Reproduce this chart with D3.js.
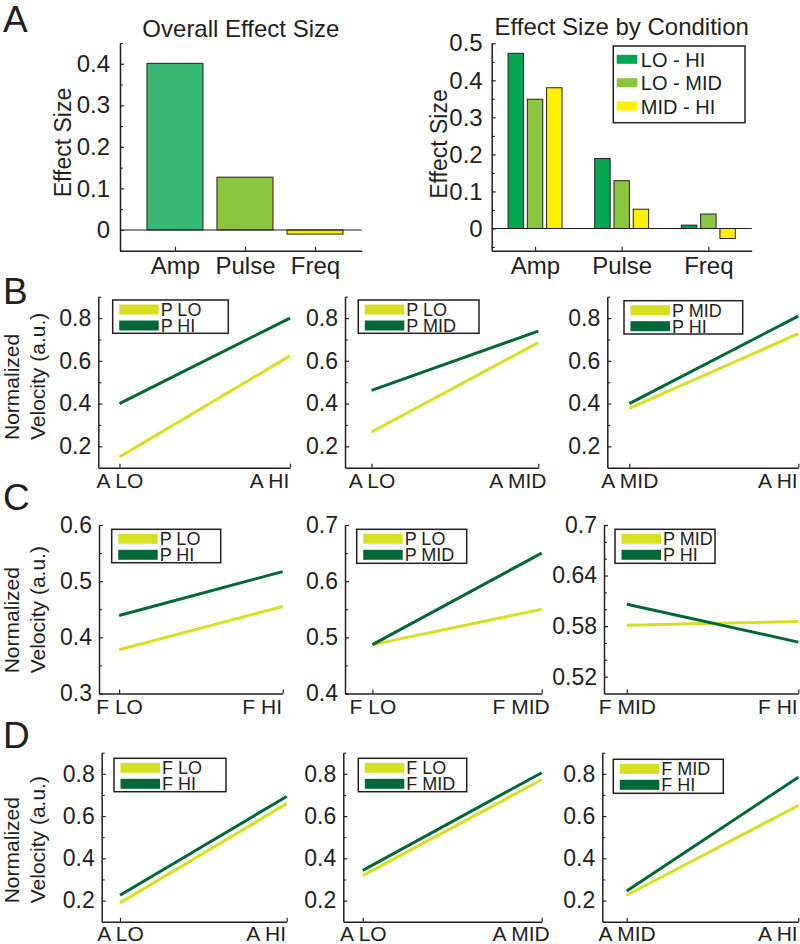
<!DOCTYPE html>
<html><head><meta charset="utf-8">
<script src="https://cdn.jsdelivr.net/npm/d3@7"></script>
<style>
body{margin:0;background:#fff}
svg{display:block}
text{font-family:"Liberation Sans",Arial,Helvetica,sans-serif;fill:#231f20}
</style>
</head><body>
<svg id="chart" width="800" height="944"></svg>
<script>
// ---------------- DATA ----------------
// Panel A (left): overall effect size
const overallCats = ["Amp", "Pulse", "Freq"];
const overallValues = [0.401, 0.127, -0.010];
// Panel A (right): effect size by condition
const conditionNames = ["LO - HI", "LO - MID", "MID - HI"];
const condLoHi  = [0.473, 0.189, 0.009];
const condLoMid = [0.349, 0.129, 0.039];
const condMidHi = [0.380, 0.052, -0.027];
const overallYTicks = [0, 0.1, 0.2, 0.3, 0.4];
const conditionYTicks = [0, 0.1, 0.2, 0.3, 0.4, 0.5];

// Panel B (pulse x amplitude)
const bXLabels = [["A LO", "A HI"], ["A LO", "A MID"], ["A MID", "A HI"]];
const bLegend  = [["P LO", "P HI"], ["P LO", "P MID"], ["P MID", "P HI"]];
const bLight   = [[0.150, 0.623], [0.267, 0.685], [0.377, 0.727]];
const bDark    = [[0.400, 0.800], [0.462, 0.739], [0.400, 0.809]];
const bYTicks  = [[0.2, 0.4, 0.6, 0.8], [0.2, 0.4, 0.6, 0.8], [0.2, 0.4, 0.6, 0.8]];
const bYMinor  = [[0.3, 0.5, 0.7, 0.9], [0.3, 0.5, 0.7, 0.9], [0.3, 0.5, 0.7, 0.9]];
const bYDomain = [[0.1, 0.9], [0.1, 0.9], [0.1, 0.9]];

// Panel C (pulse x frequency)
const cXLabels = [["F LO", "F HI"], ["F LO", "F MID"], ["F MID", "F HI"]];
const cLegend  = [["P LO", "P HI"], ["P LO", "P MID"], ["P MID", "P HI"]];
const cLight   = [[0.378, 0.455], [0.487, 0.550], [0.581, 0.5855]];
const cDark    = [[0.439, 0.517], [0.487, 0.650], [0.606, 0.561]];
const cYTicks  = [[0.3, 0.4, 0.5, 0.6], [0.4, 0.5, 0.6, 0.7], [0.52, 0.58, 0.64, 0.7]];
const cYMinor  = [[0.35, 0.45, 0.55], [0.45, 0.55, 0.65], [0.54, 0.56, 0.60, 0.62, 0.66, 0.68]];
const cYDomain = [[0.3, 0.6], [0.4, 0.7], [0.5, 0.7]];

// Panel D (frequency x amplitude)
const dXLabels = [["A LO", "A HI"], ["A LO", "A MID"], ["A MID", "A HI"]];
const dLegend  = [["F LO", "F HI"], ["F LO", "F MID"], ["F MID", "F HI"]];
const dLight   = [[0.189, 0.659], [0.318, 0.772], [0.225, 0.650]];
const dDark    = [[0.225, 0.693], [0.343, 0.805], [0.245, 0.784]];
const dYTicks  = bYTicks;
const dYMinor  = bYMinor;
const dYDomain = bYDomain;

// ---------------- STYLE / LAYOUT ----------------
const FONT = '"Liberation Sans", Arial, Helvetica, sans-serif';
const INK = "#231f20";
const COL_OVERALL = ["#36b872", "#8cc63f", "#fff000"];
const COL_COND = ["#00a651", "#8cc63f", "#fff000"];
const COL_LIGHT = "#d7df23";
const COL_DARK = "#006838";

const svg = d3.select("#chart");

function styleAxis(g, fs) {
  g.attr("font-family", FONT).attr("font-size", fs);
  g.selectAll("path.domain").attr("stroke", INK).attr("stroke-width", 1.5);
  g.selectAll(".tick line").attr("stroke", INK).attr("stroke-width", 1.2);
  g.selectAll(".tick text").attr("fill", INK);
}
function minorTicksY(scale, x, values) {
  const g = svg.append("g").attr("transform", `translate(${x},0)`)
    .call(d3.axisLeft(scale).tickValues(values).tickSize(-3).tickFormat(""));
  g.select("path.domain").remove();
  g.selectAll(".tick line").attr("stroke", INK).attr("stroke-width", 1.1);
}
function panelLetter(t, x, y) {
  svg.append("text").attr("x", x).attr("y", y).attr("font-size", 37).text(t);
}

// ---------------- PANEL A LEFT ----------------
{
  const x0 = 120, x1 = 361.7, y0 = 250.7, y1 = 43;
  const x = d3.scaleLinear().domain([0.215, 3.667]).range([x0, x1]);
  const y = d3.scaleLinear().domain([-0.05, 0.45]).range([y0, y1]);
  svg.append("g").selectAll("rect").data(overallValues).join("rect")
    .attr("x", (d, i) => x(i + 1 - 0.4))
    .attr("width", (d, i) => x(i + 1.4) - x(i + 0.6))
    .attr("y", d => y(Math.max(d, 0)))
    .attr("height", d => Math.abs(y(d) - y(0)))
    .attr("fill", (d, i) => COL_OVERALL[i])
    .attr("stroke", INK).attr("stroke-width", 1);
  svg.append("line").attr("x1", x0).attr("x2", x1).attr("y1", y(0)).attr("y2", y(0))
    .attr("stroke", INK).attr("stroke-width", 1.1);
  const ya = svg.append("g").attr("transform", `translate(${x0},0)`)
    .call(d3.axisLeft(y).tickValues(overallYTicks).tickSize(-4).tickSizeOuter(0).tickPadding(10)
      .tickFormat(d => d === 0 ? "0" : d3.format(".1f")(d)));
  styleAxis(ya, 24);
  minorTicksY(y, x0, [-0.05, 0.05, 0.15, 0.25, 0.35, 0.45]);
  const xa = svg.append("g").attr("transform", `translate(0,${y0})`)
    .call(d3.axisBottom(x).tickValues([1, 2, 3]).tickSize(-4).tickSizeOuter(0).tickPadding(6)
      .tickFormat((d, i) => overallCats[i]));
  styleAxis(xa, 24);
  svg.append("text").attr("x", (x0 + x1) / 2).attr("y", 36.5).attr("text-anchor", "middle")
    .attr("font-size", 24).text("Overall Effect Size");
  svg.append("text").attr("transform", "translate(71,142.5) rotate(-90)").attr("text-anchor", "middle")
    .attr("font-size", 23).text("Effect Size");
}

// ---------------- PANEL A RIGHT ----------------
{
  const x0 = 491.7, x1 = 751.7, y0 = 250.7, y1 = 43.3;
  const x = d3.scaleLinear().domain([0.5, 3.5]).range([x0, x1]);
  const y = d3.scaleLinear().domain([-0.06, 0.5]).range([y0, y1]);
  const series = [condLoHi, condLoMid, condMidHi];
  const off = 2 / 9, bw = 0.8 * off;
  series.forEach((vals, s) => {
    svg.append("g").selectAll("rect").data(vals).join("rect")
      .attr("x", (d, i) => x(i + 1 + (s - 1) * off - bw / 2))
      .attr("width", x(bw) - x(0))
      .attr("y", d => y(Math.max(d, 0)))
      .attr("height", d => Math.abs(y(d) - y(0)))
      .attr("fill", COL_COND[s])
      .attr("stroke", INK).attr("stroke-width", 1);
  });
  svg.append("line").attr("x1", x0).attr("x2", x1).attr("y1", y(0)).attr("y2", y(0))
    .attr("stroke", INK).attr("stroke-width", 1.1);
  const ya = svg.append("g").attr("transform", `translate(${x0},0)`)
    .call(d3.axisLeft(y).tickValues(conditionYTicks).tickSize(-4).tickSizeOuter(0).tickPadding(9)
      .tickFormat(d => d === 0 ? "0" : d3.format(".1f")(d)));
  styleAxis(ya, 24);
  minorTicksY(y, x0, [-0.05, 0.05, 0.15, 0.25, 0.35, 0.45]);
  const xa = svg.append("g").attr("transform", `translate(0,${y0})`)
    .call(d3.axisBottom(x).tickValues([1, 2, 3]).tickSize(-4).tickSizeOuter(0).tickPadding(6)
      .tickFormat((d, i) => overallCats[i]));
  styleAxis(xa, 24);
  svg.append("text").attr("x", (x0 + x1) / 2).attr("y", 35).attr("text-anchor", "middle")
    .attr("font-size", 24).text("Effect Size by Condition");
  svg.append("text").attr("transform", "translate(446.5,144) rotate(-90)").attr("text-anchor", "middle")
    .attr("font-size", 23).text("Effect Size");
  // legend
  const lx = 613.3, ly = 46, lw = 131.7, lh = 76.7;
  svg.append("rect").attr("x", lx).attr("y", ly).attr("width", lw).attr("height", lh)
    .attr("fill", "#fff").attr("stroke", INK).attr("stroke-width", 1.5);
  conditionNames.forEach((n, i) => {
    const cy = ly + 13.3 + i * 23.4;
    svg.append("rect").attr("x", lx + 3.4).attr("y", cy - 4.5).attr("width", 20.6).attr("height", 9)
      .attr("fill", COL_COND[i]);
    svg.append("text").attr("x", lx + 27.5).attr("y", cy + 7.5).attr("font-size", 20).text(n);
  });
}

// ---------------- PANELS B, C, D ----------------
const rowTop = [296.7, 525, 752.7];
const rowBottom = [467.7, 693.5, 921.7];
const rowLabelStart = [440, 673.3, 903.3];
const panelLeft  = [[98.3, 345, 607.3], [99, 345, 604], [101.7, 343.3, 602.3]];
const panelRight = [[290, 538.3, 798.3], [282.7, 541.7, 798.3], [286.7, 541.7, 798.3]];
const panelXMin  = [[0.876, 0.841, 0.87], [0.877, 0.838, 0.867], [0.89, 0.891, 0.858]];
const legendBox = [
  [[112.7, 300, 115.6, 33.3], [358.3, 300, 120.7, 33.3], [624, 300.7, 118.7, 33.3]],
  [[111.7, 529.3, 109, 33.4], [356.7, 529.3, 110, 34], [615, 529.3, 100, 34]],
  [[114, 758.3, 112, 33.4], [358.3, 758.3, 108.4, 33.4], [613.3, 759.3, 110, 34]]
];
const rows = [
  {letter: "B", ly: 304, xl: bXLabels, lg: bLegend, light: bLight, dark: bDark, yt: bYTicks, ym: bYMinor, yd: bYDomain},
  {letter: "C", ly: 510, xl: cXLabels, lg: cLegend, light: cLight, dark: cDark, yt: cYTicks, ym: cYMinor, yd: cYDomain},
  {letter: "D", ly: 748, xl: dXLabels, lg: dLegend, light: dLight, dark: dDark, yt: dYTicks, ym: dYMinor, yd: dYDomain}
];

rows.forEach((row, r) => {
  panelLetter(row.letter, 3, row.ly);
  const ys = rowLabelStart[r];
  svg.append("text").attr("transform", `translate(19,${ys}) rotate(-90)`)
    .attr("font-size", 21).text("Normalized");
  svg.append("text").attr("transform", `translate(44.5,${ys}) rotate(-90)`)
    .attr("font-size", 21).text("Velocity (a.u.)");
  for (let c = 0; c < 3; c++) {
    const x0 = panelLeft[r][c], x1 = panelRight[r][c];
    const y0 = rowBottom[r], y1 = rowTop[r];
    const x = d3.scaleLinear().domain([panelXMin[r][c], 2]).range([x0, x1]);
    const y = d3.scaleLinear().domain(row.yd[c]).range([y0, y1]);
    const ya = svg.append("g").attr("transform", `translate(${x0},0)`)
      .call(d3.axisLeft(y).tickValues(row.yt[c]).tickSize(-4).tickSizeOuter(0).tickPadding(7)
        .tickFormat(d => String(+d.toFixed(2))));
    styleAxis(ya, 23);
    minorTicksY(y, x0, row.ym[c]);
    const xa = svg.append("g").attr("transform", `translate(0,${y0})`)
      .call(d3.axisBottom(x).tickValues([1, 2]).tickSize(-4).tickSizeOuter(0).tickPadding(r === 2 ? 4.5 : 5.5)
        .tickFormat((d, i) => row.xl[c][i]));
    styleAxis(xa, 21);
    xa.selectAll(".tick text").attr("dx", (d, i) => i === 1 ? -21 : 0);
    const line = d3.line().x((d, i) => x(i + 1)).y(d => y(d));
    svg.append("path").attr("d", line(row.light[c])).attr("fill", "none")
      .attr("stroke", COL_LIGHT).attr("stroke-width", 3);
    svg.append("path").attr("d", line(row.dark[c])).attr("fill", "none")
      .attr("stroke", COL_DARK).attr("stroke-width", 3);
    // legend
    const [lx, ly, lw, lh] = legendBox[r][c];
    svg.append("rect").attr("x", lx).attr("y", ly).attr("width", lw).attr("height", lh)
      .attr("fill", "#fff").attr("stroke", INK).attr("stroke-width", 1.5);
    [COL_LIGHT, COL_DARK].forEach((col, k) => {
      const cy = ly + 9.5 + k * 16;
      svg.append("rect").attr("x", lx + 6.5).attr("y", cy - 5).attr("width", 39.5).attr("height", 10)
        .attr("fill", col);
      svg.append("text").attr("x", lx + 48).attr("y", cy + 6.5).attr("font-size", 18).text(row.lg[c][k]);
    });
  }
});
panelLetter("A", 3, 32);
</script>
</body></html>
